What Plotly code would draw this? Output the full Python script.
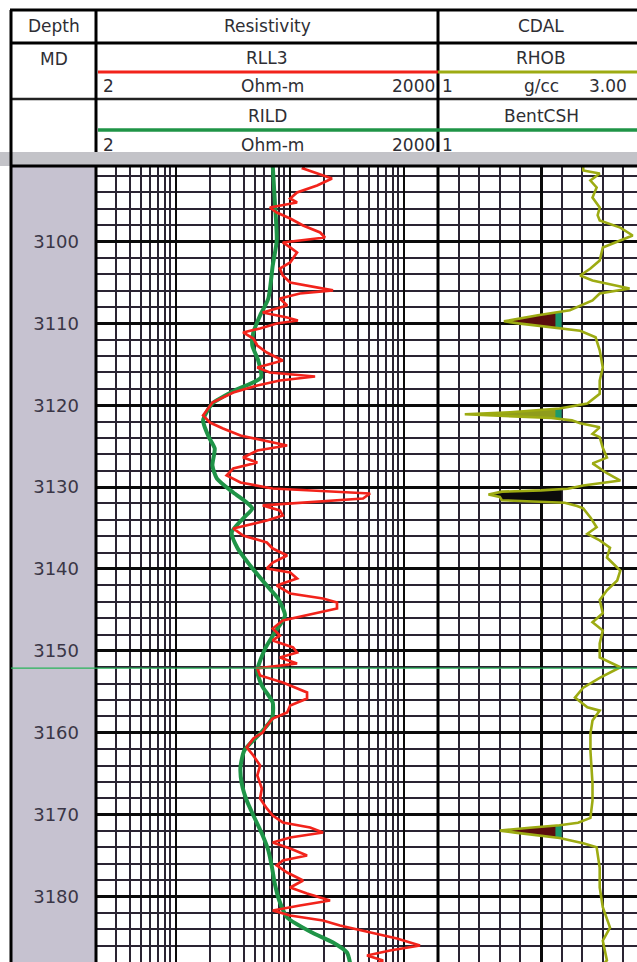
import math
import plotly.graph_objects as go

# ---------------- data ----------------
RLL3_DEPTH = [3090.72, 3091.08, 3092.31, 3093.16, 3094.02, 3094.75, 3095.24, 3095.85, 3096.46, 3097.19,
              3098.05, 3098.90, 3099.51, 3100.12, 3100.73, 3101.34, 3102.56, 3103.30, 3104.15, 3105.01,
              3105.98, 3106.35, 3106.96, 3107.82, 3108.67, 3109.28, 3109.65, 3110.02, 3110.63, 3111.11,
              3111.85, 3112.70, 3113.56, 3114.53, 3115.39, 3116.00, 3116.49, 3116.98, 3117.59, 3118.44,
              3119.66, 3121.25, 3122.11, 3122.84, 3123.69, 3124.55, 3124.92, 3125.53, 3126.38, 3126.99,
              3127.73, 3128.58, 3129.44, 3130.17, 3130.78, 3131.39, 3131.88, 3132.24, 3132.85, 3133.47,
              3134.08, 3135.05, 3135.91, 3136.76, 3137.50, 3138.35, 3139.21, 3139.94, 3140.43, 3141.16,
              3142.02, 3142.99, 3143.60, 3144.09, 3144.82, 3145.68, 3146.29, 3147.27, 3148.12, 3148.73,
              3149.59, 3150.20, 3150.81, 3151.54, 3152.15, 3153.01, 3153.86, 3155.08, 3155.82, 3156.67,
              3157.53, 3158.26, 3159.12, 3159.97, 3160.70, 3161.80, 3162.78, 3164.00, 3165.22, 3166.81,
              3168.03, 3169.25, 3170.11, 3170.96, 3171.57, 3172.18, 3172.79, 3173.40, 3174.14, 3174.99,
              3175.60, 3176.21, 3177.07, 3178.05, 3178.90, 3179.63, 3180.49, 3181.10, 3181.71, 3182.32,
              3182.93, 3183.54, 3184.40, 3185.13, 3185.98, 3186.60, 3187.21, 3187.82, 3188.06]
RLL3_OHMM = [135, 131, 235, 174, 116, 101, 116, 67, 77, 101,
             131, 185, 204, 87, 101, 116, 101, 82, 87, 101,
             240, 123, 82, 95, 58, 95, 118, 77, 55, 39,
             48, 52, 63, 87, 52, 67, 167, 82, 52, 32,
             21, 17.4, 20, 26, 37, 71, 95, 52, 39, 52,
             32, 28, 37, 71, 507, 440, 123, 58, 82, 87,
             63, 32, 39, 63, 71, 95, 71, 63, 101, 116,
             77, 101, 196, 260, 260, 142, 87, 71, 82, 71,
             107, 116, 82, 116, 52, 55, 87, 142, 142, 101,
             95, 71, 63, 58, 48, 42, 48, 55, 52, 57,
             55, 63, 71, 87, 151, 196, 101, 71, 101, 142,
             87, 77, 95, 131, 101, 142, 226, 123, 71, 101,
             196, 276, 507, 873, 1390, 759, 477, 660, 600]

RILD_DEPTH = [3090.72, 3095.0, 3099.88, 3102.93, 3106.96, 3109.04, 3111.11, 3112.70, 3114.53, 3116.61,
              3118.20, 3119.79, 3121.86, 3123.94, 3125.28, 3127.36, 3128.95, 3130.66, 3131.88, 3132.61,
              3133.83, 3135.54, 3137.50, 3139.57, 3142.02, 3143.60, 3145.68, 3147.76, 3149.71, 3152.40,
              3154.23, 3156.31, 3158.26, 3160.09, 3162.17, 3164.24, 3166.20, 3168.28, 3170.35, 3172.31,
              3174.38, 3176.46, 3178.41, 3180.49, 3182.56, 3184.40, 3185.62, 3186.84, 3188.06]
RILD_OHMM = [71, 74, 77, 71, 65, 55, 48, 47, 53, 56,
             33, 21, 17.4, 19.6, 22, 21, 23, 32, 42, 47,
             39, 31, 35, 45, 63, 79, 91, 74, 61, 52,
             57, 71, 70, 55, 40, 37, 38, 42, 49, 57,
             65, 70, 74, 81, 95, 157, 240, 318, 338]

RHOB_DEPTH = [3090.72, 3091.33, 3091.7, 3092.55, 3093.4, 3094.63, 3095.85, 3096.8, 3097.44, 3098.3,
              3099.27, 3099.88, 3100.73, 3102.32, 3103.3, 3104.15, 3104.76, 3105.74, 3106.35, 3107.21,
              3108.4, 3109.0, 3109.5, 3109.75, 3110.0, 3110.3, 3110.6, 3110.9, 3111.7, 3113.3,
              3115.4, 3117.0, 3118.6, 3119.8, 3120.4, 3120.85, 3121.1, 3121.3, 3121.55, 3121.85,
              3122.2, 3122.7, 3123.5, 3123.9, 3125.2, 3126.4, 3127.1, 3128.3, 3129.2, 3129.8,
              3130.2, 3130.4, 3130.55, 3130.9, 3131.2, 3131.6, 3131.75, 3131.9, 3132.3, 3132.6,
              3133.7, 3134.9, 3135.7, 3136.5, 3137.4, 3138.6, 3140.2, 3141.4, 3142.6, 3143.8,
              3145.4, 3146.5, 3147.5, 3149.1, 3150.8, 3152.0, 3153.3, 3154.5, 3155.7, 3156.9,
              3157.3, 3158.5, 3160.1, 3162.2, 3164.2, 3166.2, 3168.3, 3170.4, 3171.0, 3171.3,
              3171.6, 3171.95, 3172.2, 3172.5, 3172.85, 3173.2, 3173.5, 3174.0, 3176.5, 3178.9,
              3181.3, 3183.8, 3185.4, 3187.8, 3188.06]
RHOB_GCC = [2.41, 2.41, 2.57, 2.48, 2.54, 2.50, 2.57, 2.55, 2.57, 2.77,
            2.89, 2.77, 2.60, 2.57, 2.48, 2.38, 2.50, 2.86, 2.57, 2.50,
            2.28, 1.97, 1.73, 1.64, 1.78, 1.99, 2.18, 2.38, 2.53, 2.57,
            2.60, 2.57, 2.57, 2.45, 2.18, 1.70, 1.26, 1.70, 2.10, 2.30,
            2.38, 2.57, 2.50, 2.57, 2.60, 2.64, 2.50, 2.64, 2.77, 2.41,
            2.26, 2.00, 1.62, 1.49, 1.60, 1.62, 2.00, 2.23, 2.35, 2.41,
            2.48, 2.54, 2.45, 2.57, 2.67, 2.64, 2.77, 2.74, 2.64, 2.57,
            2.60, 2.50, 2.60, 2.57, 2.57, 2.77, 2.57, 2.41, 2.33, 2.45,
            2.57, 2.50, 2.48, 2.48, 2.49, 2.50, 2.50, 2.48, 2.36, 2.18,
            1.89, 1.60, 1.75, 1.94, 2.18, 2.30, 2.41, 2.54, 2.57, 2.57,
            2.60, 2.67, 2.60, 2.64, 2.62]

DEPTH_TICKS = [3100, 3110, 3120, 3130, 3140, 3150, 3160, 3170, 3180]
DEPTH_TOP, DEPTH_BASE = 3090.78, 3188.0

# coal / bentonitic carbonaceous shale flags
COAL_TOP = [3107.0, 3119.5, 3129.5, 3170.3]
COAL_BASE = [3111.8, 3122.8, 3132.7, 3174.1]
COAL_CUT = [2.14, 2.14, 2.20, 2.14]
COAL_FILL = ["#5a0e0e", "#8f9c1c", "#0b0b0b", "#5a0e0e"]
BENT_CUT = 2.20
BENT_FILL = ["#1c9a6c", "#1c9a6c", None, "#1c9a6c"]

MARKER_DEPTH = 3152.1

assert len(RLL3_DEPTH) == len(RLL3_OHMM)
assert len(RILD_DEPTH) == len(RILD_OHMM)
assert len(RHOB_DEPTH) == len(RHOB_GCC)

# ---------------- layout constants (pixels) ----------------
W, H = 637, 962
X_LEFT, X_DEPTH, X_RES, X_END = 11, 96, 438, 637
Y_HDR_TOP, Y_ROW1, Y_ROW2, Y_HDR_BOT, Y_LOG_TOP = 10, 43, 99, 152, 166
CDAL_PX_PER_UNIT = 103.0

RED = "#f2231b"
GREEN = "#1f9447"
OLIVE = "#9dab12"
GRID = "#2a2432"
MAJOR = "#0a0a0a"
TEXT = "#2e2e34"
FONT = "DejaVu Sans"


def px(x):
    return x / W


def py(y):
    return 1 - y / H


def clip_polygon(depths, vals, cut, top, base):
    d_pts, v_pts = [], []
    idx = [i for i, d in enumerate(depths) if top <= d <= base]
    for k, i in enumerate(idx):
        d1, v1 = depths[i], vals[i]
        d_pts.append(d1)
        v_pts.append(min(v1, cut))
        if k + 1 < len(idx):
            d2, v2 = depths[idx[k + 1]], vals[idx[k + 1]]
            if (v1 - cut) * (v2 - cut) < 0:
                dc = d1 + (cut - v1) / (v2 - v1) * (d2 - d1)
                d_pts.append(dc)
                v_pts.append(cut)
    return v_pts, d_pts


fig = go.Figure()

# resistivity curves
fig.add_trace(go.Scatter(x=RILD_OHMM, y=RILD_DEPTH, mode="lines", name="RILD",
                         line=dict(color=GREEN, width=4, shape="spline", smoothing=0.6),
                         xaxis="x", yaxis="y", hoverinfo="skip"))
fig.add_trace(go.Scatter(x=RLL3_OHMM, y=RLL3_DEPTH, mode="lines", name="RLL3",
                         line=dict(color=RED, width=2.7),
                         xaxis="x", yaxis="y", hoverinfo="skip"))

# coal fills in CDAL track
for top, base, cut, fillc, bentc in zip(COAL_TOP, COAL_BASE, COAL_CUT, COAL_FILL, BENT_FILL):
    if bentc:
        xs, ys = clip_polygon(RHOB_DEPTH, RHOB_GCC, BENT_CUT, top, base)
        fig.add_trace(go.Scatter(x=xs, y=ys, mode="lines", fill="toself", fillcolor=bentc,
                                 line=dict(width=0, color=bentc), xaxis="x2", yaxis="y2",
                                 hoverinfo="skip"))
    xs, ys = clip_polygon(RHOB_DEPTH, RHOB_GCC, cut, top, base)
    fig.add_trace(go.Scatter(x=xs, y=ys, mode="lines", fill="toself", fillcolor=fillc,
                             line=dict(width=0, color=fillc), xaxis="x2", yaxis="y2",
                             hoverinfo="skip"))

fig.add_trace(go.Scatter(x=RHOB_GCC, y=RHOB_DEPTH, mode="lines", name="RHOB",
                         line=dict(color=OLIVE, width=2.6),
                         xaxis="x2", yaxis="y2", hoverinfo="skip"))

res_minor = [m * 10 ** e for e in range(0, 4) for m in range(2, 10) if 2 <= m * 10 ** e <= 2000]
log_dom = [px(X_DEPTH), px(X_RES)]
ydom = [0, py(Y_LOG_TOP)]

common_y = dict(range=[DEPTH_BASE, DEPTH_TOP], domain=ydom, tickmode="array", tickvals=DEPTH_TICKS,
                showgrid=True, gridcolor=MAJOR, gridwidth=3, zeroline=False, ticks="",
                minor=dict(tickmode="linear", tick0=3100, dtick=2, showgrid=True,
                           gridcolor=GRID, gridwidth=1.8))

fig.update_layout(
    width=W, height=H, margin=dict(l=0, r=0, t=0, b=0),
    paper_bgcolor="white", plot_bgcolor="white", showlegend=False,
    xaxis=dict(type="log", domain=log_dom, range=[math.log10(2), math.log10(2000)],
               anchor="y", tickmode="array", tickvals=[10, 100, 1000], showticklabels=False,
               ticks="", showgrid=True, gridcolor=MAJOR, gridwidth=2.2, zeroline=False,
               minor=dict(tickmode="array", tickvals=res_minor, showgrid=True,
                          gridcolor=GRID, gridwidth=1.6)),
    yaxis=dict(anchor="x", showticklabels=True, ticklabelstandoff=16,
               tickfont=dict(family=FONT, size=18, color="#3a3646"), **common_y),
    xaxis2=dict(domain=[px(X_RES), 1.0],
                range=[1.0, 1.0 + (X_END - X_RES) / CDAL_PX_PER_UNIT],
                anchor="y2", tickmode="linear", tick0=1.0, dtick=1.0, showticklabels=False,
                ticks="", showgrid=True, gridcolor=MAJOR, gridwidth=3, zeroline=False,
                minor=dict(tickmode="linear", tick0=1.0, dtick=0.2, showgrid=True,
                           gridcolor=GRID, gridwidth=1.6)),
    yaxis2=dict(anchor="x2", matches="y", showticklabels=False, **common_y),
)

shapes = []


def hline(y, x0, x1, color="black", width=3, layer="above"):
    shapes.append(dict(type="line", xref="paper", yref="paper", x0=px(x0), x1=px(x1),
                       y0=py(y), y1=py(y), line=dict(color=color, width=width), layer=layer))


def vline(x, y0, y1, color="black", width=3, layer="above"):
    shapes.append(dict(type="line", xref="paper", yref="paper", x0=px(x), x1=px(x),
                       y0=py(y0), y1=py(y1), line=dict(color=color, width=width), layer=layer))


# depth track background
shapes.append(dict(type="rect", xref="paper", yref="paper", x0=px(X_LEFT), x1=px(X_DEPTH),
                   y0=0, y1=py(Y_LOG_TOP), fillcolor="#c6c2d0", line=dict(width=0), layer="below"))
# header bottom gray band
shapes.append(dict(type="rect", xref="paper", yref="paper", x0=0, x1=1,
                   y0=py(Y_LOG_TOP), y1=py(Y_HDR_BOT), fillcolor="#c3c3c8", line=dict(width=0),
                   layer="below"))

# header grid
hline(Y_HDR_TOP, X_LEFT - 1, X_END)
hline(Y_ROW1, X_LEFT, X_END, width=3)
hline(Y_ROW2, X_LEFT, X_END, color="#222", width=2.5)
vline(X_LEFT, Y_HDR_TOP, H, width=3)
vline(X_DEPTH, Y_HDR_TOP, Y_HDR_BOT, width=3)
vline(X_RES, Y_HDR_TOP, Y_HDR_BOT, width=3)
# curve legend lines
hline(72, X_DEPTH + 2, X_RES, color=RED, width=3)
hline(72, X_RES, X_END, color=OLIVE, width=3)
hline(130, X_DEPTH + 2, X_END, color=GREEN, width=3.5)
# log area borders
hline(Y_LOG_TOP, X_LEFT - 1, X_END, width=3)
vline(X_DEPTH, Y_LOG_TOP, H, width=3)
vline(X_RES, Y_LOG_TOP, H, width=3)
# depth marker
shapes.append(dict(type="line", xref="paper", yref="y", x0=px(X_LEFT), x1=1,
                   y0=MARKER_DEPTH, y1=MARKER_DEPTH, line=dict(color="#27b35a", width=1.2),
                   layer="above"))

fig.update_layout(shapes=shapes)

annots = []


def text(s, x, y, anchor="center", size=17):
    annots.append(dict(text=s, x=px(x), y=py(y), xref="paper", yref="paper", xanchor=anchor,
                       yanchor="middle", showarrow=False,
                       font=dict(family=FONT, size=size, color=TEXT)))


text("Depth", 54, 26)
text("Resistivity", 267, 26)
text("CDAL", 541, 26)
text("MD", 54, 59)
text("RLL3", 267, 58)
text("RHOB", 541, 58)
text("2", 101, 86, "left")
text("Ohm-m", 272, 86)
text("2000", 437, 86, "right")
text("1", 440, 86, "left")
text("g/cc", 541, 86)
text("3.00", 629, 86, "right")
text("RILD", 267, 116)
text("BentCSH", 541, 116)
text("2", 101, 145, "left")
text("Ohm-m", 272, 145)
text("2000", 437, 145, "right")
text("1", 440, 145, "left")

fig.update_layout(annotations=annots)

fig.write_html("out.html", config={"displayModeBar": False},
               post_script="document.body.style.margin='0';document.body.style.overflow='hidden';")
